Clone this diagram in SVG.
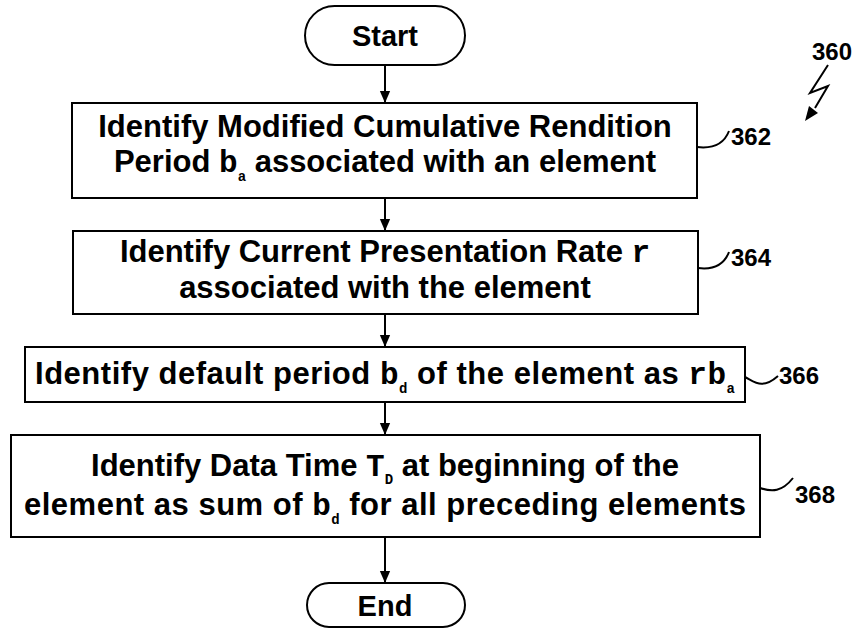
<svg xmlns="http://www.w3.org/2000/svg" width="860" height="630" viewBox="0 0 860 630">
<defs>
<marker id="ah" markerUnits="userSpaceOnUse" markerWidth="12" markerHeight="14" refX="14" refY="6" orient="auto" viewBox="0 0 14 12">
<path d="M0,0 L14,6 L0,12 z" fill="#000"/>
</marker>
<style>
.box{fill:#fff;stroke:#000;stroke-width:2}
.t{font-family:"Liberation Sans",Arial,sans-serif;font-weight:bold;font-size:31px;fill:#000;text-anchor:middle}
.m{font-family:"Liberation Mono","Courier New",monospace;font-weight:bold}
.s{font-family:"Liberation Mono","Courier New",monospace;font-weight:bold;font-size:14px}
.lbl{font-family:"Liberation Sans",Arial,sans-serif;font-weight:bold;font-size:24px;fill:#000}
.ln{fill:none;stroke:#000;stroke-width:2}
</style>
</defs>
<rect width="860" height="630" fill="#fff"/>
<g id="connectors">
<line class="ln" x1="385" y1="65" x2="385" y2="103" marker-end="url(#ah)"/>
<line class="ln" x1="385" y1="198" x2="385" y2="231" marker-end="url(#ah)"/>
<line class="ln" x1="385" y1="314" x2="385" y2="347" marker-end="url(#ah)"/>
<line class="ln" x1="385" y1="402" x2="385" y2="435" marker-end="url(#ah)"/>
<line class="ln" x1="385" y1="537" x2="385" y2="583" marker-end="url(#ah)"/>
</g>
<g id="start">
<rect class="box" x="305" y="6" width="160" height="59" rx="29.5"/>
<text class="t" x="385" y="46" style="font-size:29px">Start</text>
</g>
<g id="n362">
<rect class="box" x="72" y="103" width="625" height="95"/>
<text class="t" x="385" y="137">Identify Modified Cumulative Rendition</text>
<text class="t" x="385" y="172">Period <tspan class="m">b</tspan><tspan class="s" dy="9">a</tspan><tspan dy="-9"> associated with an element</tspan></text>
</g>
<g id="n364">
<rect class="box" x="73" y="231" width="625" height="83"/>
<text class="t" x="385" y="262">Identify Current Presentation Rate <tspan class="m">r</tspan></text>
<text class="t" x="385" y="298">associated with the element</text>
</g>
<g id="n366">
<rect class="box" x="25" y="347" width="720" height="55"/>
<text class="t" x="385" y="384" textLength="700" lengthAdjust="spacing">Identify default period <tspan class="m">b</tspan><tspan class="s" dy="9">d</tspan><tspan dy="-9"> of the element as </tspan><tspan class="m">rb</tspan><tspan class="s" dy="9">a</tspan></text>
</g>
<g id="n368">
<rect class="box" x="11" y="435" width="749" height="102"/>
<text class="t" x="385" y="476">Identify Data Time <tspan class="m">T</tspan><tspan class="s" dy="8">D</tspan><tspan dy="-8"> at beginning of the</tspan></text>
<text class="t" x="385" y="515" textLength="722" lengthAdjust="spacing">element as sum of <tspan class="m">b</tspan><tspan class="s" dy="9">d</tspan><tspan dy="-9"> for all preceding elements</tspan></text>
</g>
<g id="end">
<rect class="box" x="307" y="583" width="158" height="44" rx="22"/>
<text class="t" x="385" y="616" style="font-size:29px">End</text>
</g>
<g id="labels">
<path class="ln" d="M697,147 C714,149 724,144 729,131"/>
<text class="lbl" x="731" y="145">362</text>
<path class="ln" d="M698,268 C714,270 724,265 729,252"/>
<text class="lbl" x="731" y="266">364</text>
<path class="ln" d="M745,377 C755,382 762,390 778,376"/>
<text class="lbl" x="779" y="384">366</text>
<path class="ln" d="M760,488 C772,492 782,492 793,478"/>
<text class="lbl" x="795" y="503">368</text>
<text class="lbl" x="812" y="60">360</text>
<polyline class="ln" points="828,65 810,93 828,86 815,108"/>
<polygon points="805,121 818,113 809,106" fill="#000"/>
</g>
</svg>
